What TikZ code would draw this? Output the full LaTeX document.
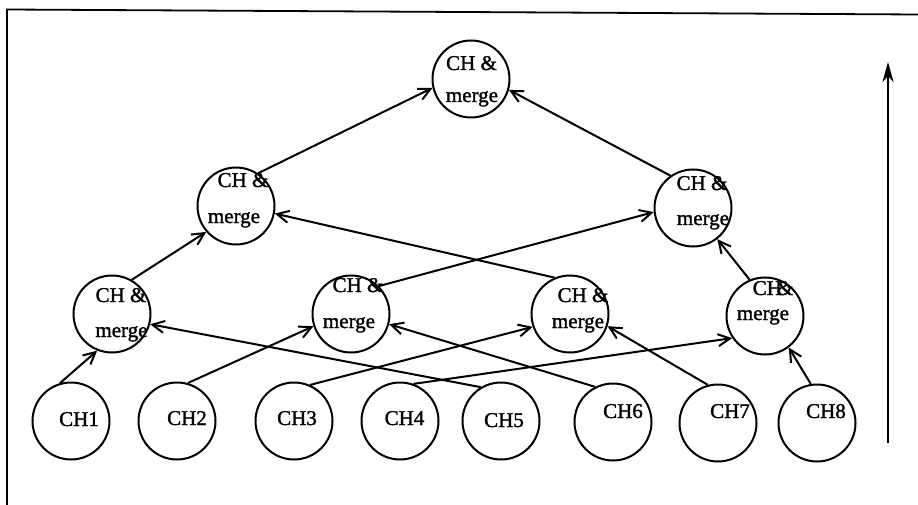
\documentclass[tikz,border=0pt]{standalone}
\usepackage{fontspec}
\setmainfont{Liberation Serif}
\newfontfamily\scanfont[FakeBold=1.5]{Liberation Serif}
\usetikzlibrary{arrows.meta}
\begin{document}
\begin{tikzpicture}[x=1pt,y=-1pt,
  chnode/.style={draw,circle,line width=2pt,minimum size=77pt,inner sep=0pt},
  lbl/.style={anchor=base,inner sep=0pt,font=\scanfont\fontsize{21}{25}\selectfont},
  link/.style={line width=2pt,-{Straight Barb[length=12pt,width=12pt,line width=2pt]}},
  frame/.style={line width=1.8pt}
  ]
\useasboundingbox (0,0) rectangle (918,505);
% frame
\coordinate (b1) at (7,505);
\coordinate (b2) at (7,9.5);
\coordinate (b3) at (918,14.5);
\draw[frame] (b1) -- (b2) -- (b3);
% circles
\node[chnode] (T) at (471,79) {};
\node[chnode] (A) at (236,206) {};
\node[chnode] (B) at (693,208) {};
\node[chnode] (L1) at (112,314) {};
\node[chnode] (L2) at (351,314) {};
\node[chnode] (L3) at (570,314) {};
\node[chnode] (L4) at (765,316) {};
\node[chnode] (C1) at (71,421) {};
\node[chnode] (C2) at (177,421) {};
\node[chnode] (C3) at (294,421) {};
\node[chnode] (C4) at (400,421) {};
\node[chnode] (C5) at (501,421) {};
\node[chnode] (C6) at (613,422) {};
\node[chnode] (C7) at (718,423) {};
\node[chnode] (C8) at (817,423) {};
% texts
\node[lbl] (tTa) at (471.5,70) {CH \&};
\node[lbl] (tTb) at (472,102) {merge};
\node[lbl] (tAa) at (243,187) {CH \&};
\node[lbl] (tAb) at (234,223) {merge};
\node[lbl] (tBa) at (702,190) {CH \&};
\node[lbl] (tBb) at (703,225) {merge};
\node[lbl] (tL1a) at (121,302) {CH \&};
\node[lbl] (tL1b) at (121.5,337) {merge};
\node[lbl] (tL2a) at (358,292) {CH \&};
\node[lbl] (tL2b) at (349,328) {merge};
\node[lbl] (tL3a) at (583,302) {CH \&};
\node[lbl] (tL3b) at (578,328) {merge};
\node[lbl] (tL4a) at (773,295) {CH\kern-5pt\&};
\node[lbl] (tL4b) at (763,320) {merge};
\node[lbl] (tC1) at (79,426) {CH1};
\node[lbl] (tC2) at (187,425) {CH2};
\node[lbl] (tC3) at (297,425) {CH3};
\node[lbl] (tC4) at (404.5,425) {CH4};
\node[lbl] (tC5) at (504,427) {CH5};
\node[lbl] (tC6) at (623,418) {CH6};
\node[lbl] (tC7) at (730,418) {CH7};
\node[lbl] (tC8) at (826,418) {CH8};
% connectors
\draw[link] (A.56) -- (T.193);
\draw[link] (B.125) -- (T.344);
\draw[link] (L1.60) -- (A.221);
\draw[link] (L4.113) -- (B.308);
\draw[link] (L3.113) -- (A.349);
\draw[link] (L2.45) -- (B.186);
\draw[link] (C1.106) -- (L1.248);
\draw[link] (C2.74) -- (L2.198);
\draw[link] (C3.66) -- (L3.199);
\draw[link] (C4.70) -- (L4.214);
\draw[link] (C5.121) -- (L1.345);
\draw[link] (C6.117) -- (L2.345);
\draw[link] (C7.105) -- (L3.342);
\draw[link] (C8.99) -- (L4.307);
% vertical arrow
\coordinate (vb) at (888,443);
\coordinate (vt) at (888,62);
\draw[line width=2pt,-{Stealth[length=20pt,width=11pt,inset=6pt]}] (vb) -- (vt);
\end{tikzpicture}
\end{document}
